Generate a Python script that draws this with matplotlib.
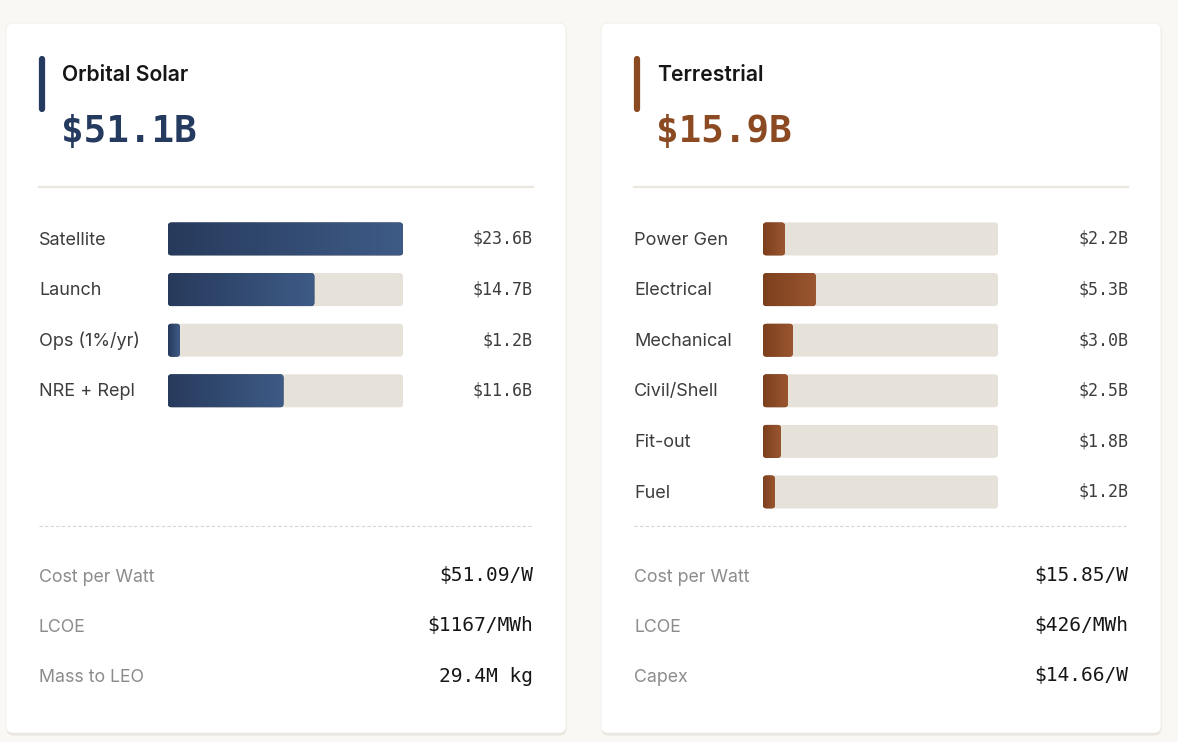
import numpy as np
import matplotlib
matplotlib.use("Agg")
import matplotlib.pyplot as plt
from matplotlib.patches import FancyBboxPatch
from matplotlib.colors import LinearSegmentedColormap
import matplotlib.transforms as mtrans

# ---- data ----
orbital_title = "Orbital Solar"
orbital_total = "$51.1B"
orbital_cats = ["Satellite", "Launch", "Ops (1%/yr)", "NRE + Repl"]
orbital_vals = [23.6, 14.7, 1.2, 11.6]
orbital_metric_labels = ["Cost per Watt", "LCOE", "Mass to LEO"]
orbital_metric_vals = ["$51.09/W", "$1167/MWh", "29.4M kg"]

terr_title = "Terrestrial"
terr_total = "$15.9B"
terr_cats = ["Power Gen", "Electrical", "Mechanical", "Civil/Shell", "Fit-out", "Fuel"]
terr_vals = [2.2, 5.3, 3.0, 2.5, 1.8, 1.2]
terr_metric_labels = ["Cost per Watt", "LCOE", "Capex"]
terr_metric_vals = ["$15.85/W", "$426/MWh", "$14.66/W"]

vmax = max(orbital_vals + terr_vals)

W, H = 1178, 742
fig = plt.figure(figsize=(W / 100, H / 100), dpi=100)
fig.patch.set_facecolor("#f9f8f4")

SANS = ["Inter", "DejaVu Sans"]
MONO = ["DejaVu Sans Mono"]

# overlay axes in pixel coordinates
bg = fig.add_axes([0, 0, 1, 1])
bg.set_xlim(0, W)
bg.set_ylim(H, 0)
bg.axis("off")
bg.patch.set_alpha(0)


def fx(px):
    return px / W


def fy(py):
    return 1 - py / H


def card(x0, title, total, color, grad, cats, vals, mlabels, mvals):
    cw = 560
    # shadow + card
    bg.add_patch(FancyBboxPatch((x0 + 0.5, 24.5), cw, 711, boxstyle="round,pad=0,rounding_size=7",
                                fc="#e9e6df", ec="none", zorder=1))
    bg.add_patch(FancyBboxPatch((x0, 23), cw, 710, boxstyle="round,pad=0,rounding_size=7",
                                fc="white", ec="#f0eee9", lw=0.6, zorder=2))
    lx = x0 + 33
    rx = x0 + 527
    # accent bar
    bg.plot([lx + 3, lx + 3], [59, 109], color=color, lw=4.5, solid_capstyle="round", zorder=3)
    bg.text(lx + 23, 75, title, fontsize=15.2, fontweight="semibold", family=SANS,
            color="#161616", va="center", ha="left", zorder=4)
    bg.text(lx + 22, 132, total, fontsize=27, fontweight="bold", family=MONO, color=color,
            va="center", ha="left", zorder=4)
    bg.plot([lx, rx], [187, 187], color="#ebe7de", lw=1.6, zorder=3)
    bg.plot([lx, rx], [526, 526], color="#d9d6cf", lw=0.8, ls=(0, (3, 2)), zorder=3)

    # bar axes
    bx0 = x0 + 162
    bw = 235
    top, bot = 239 - 50.6 / 2, 492 + 50.6 / 2
    ax = fig.add_axes([fx(bx0), fy(bot), bw / W, (bot - top) / H])
    ax.set_xlim(0, vmax)
    ax.set_ylim(5.5, -0.5)
    ax.axis("off")
    ax.patch.set_alpha(0)
    h = 33 / 50.6
    px_per_x = bw / vmax
    px_per_y = 50.6
    r = 3.5 / px_per_x
    asp = (1 / px_per_y) / (1 / px_per_x)
    cmap = LinearSegmentedColormap.from_list("g", grad)
    gradimg = np.linspace(0, 1, 256).reshape(1, -1)
    bt = mtrans.blended_transform_factory(ax.transAxes, ax.transData)
    for i, (c, v) in enumerate(zip(cats, vals)):
        track = FancyBboxPatch((0, i - h / 2), vmax, h, boxstyle=f"round,pad=0,rounding_size={r}",
                               mutation_aspect=asp, fc="#e6e2da", ec="none", zorder=1)
        ax.add_patch(track)
        bar = FancyBboxPatch((0, i - h / 2), v, h, boxstyle=f"round,pad=0,rounding_size={r}",
                             mutation_aspect=asp, fc=grad[0], ec="none", zorder=2)
        ax.add_patch(bar)
        im = ax.imshow(gradimg, extent=(0, v, i + h / 2, i - h / 2), aspect="auto",
                       cmap=cmap, zorder=3, interpolation="bilinear")
        im.set_clip_path(bar)
        ax.text((lx - bx0) / bw, i + 0.02, c, transform=bt, fontsize=13, family=SANS,
                color="#3d3d3d", va="center", ha="left")
        ax.text((rx - bx0) / bw, i, f"${v:.1f}B", transform=bt, fontsize=12, family=MONO,
                color="#3d3d3d", va="center", ha="right")
    ax.set_xlim(0, vmax)
    ax.set_ylim(5.5, -0.5)

    for j, (ml, mv) in enumerate(zip(mlabels, mvals)):
        y = 576 + j * 50
        bg.text(lx, y + 1, ml, fontsize=12.8, family=SANS, color="#8c8c8c", va="center", ha="left",
                zorder=4)
        bg.text(rx, y, mv, fontsize=14, family=MONO, color="#161616", va="center", ha="right",
                zorder=4)


card(6, orbital_title, orbital_total, "#243a5e", ["#273a5c", "#3e5b86"],
     orbital_cats, orbital_vals, orbital_metric_labels, orbital_metric_vals)
card(601, terr_title, terr_total, "#8b4a22", ["#7c3f1d", "#9a5630"],
     terr_cats, terr_vals, terr_metric_labels, terr_metric_vals)

fig.savefig("out.png", dpi=100, facecolor=fig.get_facecolor())
